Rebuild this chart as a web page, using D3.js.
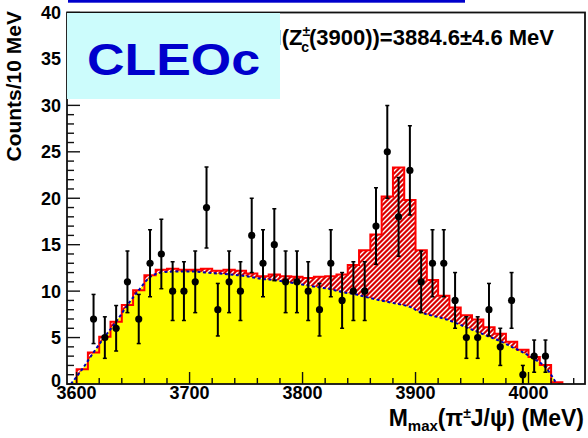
<!DOCTYPE html>
<html>
<head>
<meta charset="utf-8">
<script src="https://cdn.jsdelivr.net/npm/d3@7"></script>
<style>
  html, body { margin: 0; padding: 0; background: #ffffff; }
  svg { display: block; font-family: "Liberation Sans", Arial, Helvetica, sans-serif; }
</style>
</head>
<body>
<svg id="chart" width="588" height="438"></svg>
<script>
// Fit histogram: total (signal + background), 10 MeV bins, low edges
const totalLow = [3600, 3610, 3620, 3630, 3640, 3650, 3660, 3670, 3680, 3690,
                  3700, 3710, 3720, 3730, 3740, 3750, 3760, 3770, 3780, 3790,
                  3800, 3810, 3820, 3830, 3840, 3850, 3860, 3870, 3880, 3890,
                  3900, 3910, 3920, 3930, 3940, 3950, 3960, 3970, 3980, 3990,
                  4000, 4010, 4020];
const totalVal = [1.6, 3.4, 5.1, 6.7, 8.5, 10.1, 11.7, 12.3, 12.4, 12.3,
                  12.3, 12.4, 12.2, 12.3, 12.2, 11.9, 11.6, 11.8, 11.6, 11.55,
                  11.4, 11.55, 11.6, 11.8, 12.8, 14.4, 16.1, 20.2, 23.3, 19.8,
                  14.4, 11.2, 9.5, 8.25, 7.4, 6.95, 6.1, 5.4, 4.55, 3.7,
                  2.9, 2.05, 0.2];
const binWidth = 10;

// Background shape sampled at bin centres
const bgMass = [3595, 3605, 3615, 3625, 3635, 3645, 3655, 3665, 3675, 3685, 3695,
                3705, 3715, 3725, 3735, 3745, 3755, 3765, 3775, 3785, 3795,
                3805, 3815, 3825, 3835, 3845, 3855, 3865, 3875, 3885, 3895,
                3905, 3915, 3925, 3935, 3945, 3955, 3965, 3975, 3985, 3995,
                4005, 4015, 4025];
const bgVal = [0, 1.6, 3.4, 5.1, 6.7, 8.5, 10.1, 11.5, 12.0, 12.1, 12.1,
               12.1, 12.0, 11.9, 11.8, 11.7, 11.5, 11.3, 11.2, 11.0, 10.8,
               10.6, 10.4, 10.2, 9.9, 9.7, 9.4, 9.1, 8.85, 8.6, 8.3,
               7.7, 7.35, 7.05, 6.6, 6.1, 5.6, 5.1, 4.6, 4.0, 3.4,
               2.7, 1.8, 0];

// Measured counts per bin (bin centres)
const dataMass = [3615, 3625, 3635, 3645, 3655, 3665, 3675, 3685, 3695,
                  3705, 3715, 3725, 3735, 3745, 3755, 3765, 3775, 3785, 3795,
                  3805, 3815, 3825, 3835, 3845, 3855, 3865, 3875, 3885, 3895,
                  3905, 3915, 3925, 3935, 3945, 3955, 3965, 3975, 3985, 3995,
                  4005, 4015];
const dataCount = [7, 5, 6, 11, 7, 13, 14, 10, 10,
                   11, 19, 8, 11, 10, 16, 13, 15, 11, 11,
                   10, 8, 13, 9, 10, 10, 17, 25, 18, 23,
                   11, 13, 13, 9, 5, 5, 8, 4, 9, 1,
                   3, 3];

// Axis ticks
const xMajorTicks = [3600, 3700, 3800, 3900, 4000];
const xMinorTicks = [3620, 3640, 3660, 3680, 3720, 3740, 3760, 3780, 3820, 3840,
                     3860, 3880, 3920, 3940, 3960, 3980, 4020, 4040];
const yMajorTicks = [0, 5, 10, 15, 20, 25, 30, 35, 40];
const yMinorTicks = [1, 2, 3, 4, 6, 7, 8, 9, 11, 12, 13, 14, 16, 17, 18, 19,
                     21, 22, 23, 24, 26, 27, 28, 29, 31, 32, 33, 34, 36, 37, 38, 39];

const svg = d3.select("#chart");
const frame = { left: 67, right: 585, top: 12.5, bottom: 384 };

const x = d3.scaleLinear().domain([3591.5, 4050]).range([frame.left, frame.right]);
const y = d3.scaleLinear().domain([0, 40]).range([frame.bottom, frame.top]);

// Hatch pattern for the signal component
const defs = svg.append("defs");
const pat = defs.append("pattern")
  .attr("id", "hatch").attr("patternUnits", "userSpaceOnUse")
  .attr("width", 5).attr("height", 5);
pat.append("rect").attr("width", 5).attr("height", 5).attr("fill", "#d80000");
pat.append("path").attr("d", "M-1,1 l2,-2 M0,5 l5,-5 M4,6 l2,-2")
  .attr("stroke", "#ffffff").attr("stroke-width", 1.4);

defs.append("clipPath").attr("id", "plotclip")
  .append("rect").attr("x", frame.left).attr("y", frame.top)
  .attr("width", frame.right - frame.left).attr("height", frame.bottom - frame.top);

const plot = svg.append("g").attr("clip-path", "url(#plotclip)");

// Step points for the total histogram
const stepPts = totalLow.map((m, i) => [m, totalVal[i]]);
stepPts.push([totalLow[totalLow.length - 1] + binWidth, totalVal[totalVal.length - 1]]);

const stepArea = d3.area().curve(d3.curveStepAfter)
  .x(d => x(d[0])).y0(y(0)).y1(d => y(d[1]));
plot.append("path").datum(stepPts).attr("d", stepArea).attr("fill", "url(#hatch)");

// Background fill
const bgPts = bgMass.map((m, i) => [m, bgVal[i]]);
const bgArea = d3.area().curve(d3.curveMonotoneX)
  .x(d => x(d[0])).y0(y(0)).y1(d => y(d[1]));
plot.append("path").datum(bgPts).attr("d", bgArea).attr("fill", "#ffff00");

// Total histogram outline
const outline = [[totalLow[0], 0], ...stepPts, [stepPts[stepPts.length - 1][0], 0]];
const stepLine = d3.line().curve(d3.curveStepAfter).x(d => x(d[0])).y(d => y(d[1]));
plot.append("path").datum(outline).attr("d", stepLine)
  .attr("fill", "none").attr("stroke", "#ff0000").attr("stroke-width", 2);

// Background curve, dashed
const bgLine = d3.line().curve(d3.curveMonotoneX).x(d => x(d[0])).y(d => y(d[1]));
plot.append("path").datum(bgPts).attr("d", bgLine)
  .attr("fill", "none").attr("stroke", "#0000b0").attr("stroke-width", 2)
  .attr("stroke-dasharray", "3,2.5");

// Data points with Poisson error bars
const pts = plot.append("g");
dataMass.forEach((m, i) => {
  const n = dataCount[i];
  const e = Math.sqrt(n);
  const cx = x(m);
  pts.append("line").attr("x1", cx).attr("x2", cx)
    .attr("y1", y(n - e)).attr("y2", y(n + e))
    .attr("stroke", "#000").attr("stroke-width", 2);
  [n - e, n + e].forEach(v => {
    pts.append("line").attr("x1", cx - 2).attr("x2", cx + 2)
      .attr("y1", y(v)).attr("y2", y(v))
      .attr("stroke", "#000").attr("stroke-width", 1.5);
  });
  pts.append("circle").attr("cx", cx).attr("cy", y(n)).attr("r", 3.6).attr("fill", "#000");
});

// Frame
svg.append("rect").attr("x", frame.left).attr("y", frame.top)
  .attr("width", frame.right - frame.left).attr("height", frame.bottom - frame.top)
  .attr("fill", "none").attr("stroke", "#111").attr("stroke-width", 1.8);

// Axes: inward ticks
const axes = svg.append("g").attr("stroke", "#111").attr("stroke-width", 1.4);
xMajorTicks.forEach(t => axes.append("line").attr("x1", x(t)).attr("x2", x(t))
  .attr("y1", frame.bottom).attr("y2", frame.bottom - 12));
xMinorTicks.forEach(t => axes.append("line").attr("x1", x(t)).attr("x2", x(t))
  .attr("y1", frame.bottom).attr("y2", frame.bottom - 6));
yMajorTicks.forEach(t => axes.append("line").attr("x1", frame.left).attr("x2", frame.left + 13)
  .attr("y1", y(t)).attr("y2", y(t)));
yMinorTicks.forEach(t => axes.append("line").attr("x1", frame.left).attr("x2", frame.left + 7)
  .attr("y1", y(t)).attr("y2", y(t)));

const lbl = svg.append("g").attr("font-weight", "bold").attr("font-size", 18).attr("fill", "#000");
xMajorTicks.forEach(t => lbl.append("text").attr("x", x(t)).attr("y", 399)
  .attr("text-anchor", "middle").text(t));
yMajorTicks.forEach(t => lbl.append("text").attr("x", 61).attr("y", y(t) + (t === 0 ? 3 : 6.5))
  .attr("text-anchor", "end").text(t));

// Axis titles
svg.append("text").attr("transform", "translate(21,11) rotate(-90)")
  .attr("text-anchor", "end").attr("font-weight", "bold").attr("font-size", 21)
  .text("Counts/10 MeV");

const xt = svg.append("text").attr("font-weight", "bold").attr("font-size", 23)
  .attr("text-anchor", "end").attr("x", 584).attr("y", 426);
xt.append("tspan").text("M");
xt.append("tspan").attr("font-size", 15).attr("dy", 5).text("max");
xt.append("tspan").attr("dy", -5).text("(π");
xt.append("tspan").attr("font-size", 14).attr("dy", -8).text("±");
xt.append("tspan").attr("dy", 8).text("J/ψ) (MeV)");

// Mass result
const mt = svg.append("text").attr("font-weight", "bold").attr("font-size", 22)
  .attr("text-anchor", "end").attr("x", 554).attr("y", 45);
mt.append("tspan").text("M(Z");
mt.append("tspan").attr("font-size", 14).attr("dy", -9).text("±");
mt.append("tspan").attr("font-size", 14).attr("dx", -9).attr("dy", 16).text("c");
mt.append("tspan").attr("dy", -7).text("(3900))=3884.6±4.6 MeV");

// Experiment label
svg.append("rect").attr("x", 67).attr("y", 13).attr("width", 213).attr("height", 86)
  .attr("fill", "#ccfcfc");
svg.append("text").attr("x", 87).attr("y", 75).attr("font-size", 44).attr("font-weight", "bold")
  .attr("fill", "#0000cc").attr("textLength", 173).attr("lengthAdjust", "spacingAndGlyphs")
  .text("CLEOc");

// Blue rule along the top
svg.append("rect").attr("x", 68).attr("y", 0).attr("width", 397).attr("height", 2.7)
  .attr("fill", "#0000cc");
</script>
</body>
</html>
